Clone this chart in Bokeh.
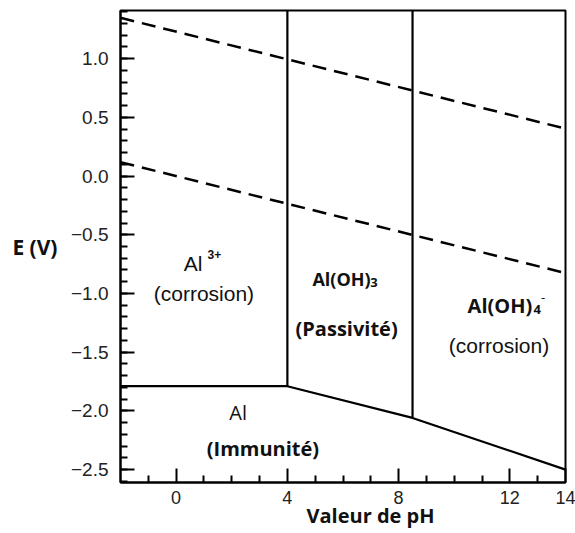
from bokeh.plotting import figure
from bokeh.models import Range1d, FixedTicker, Label, LinearAxis
from bokeh.embed import file_html
from bokeh.resources import INLINE

# ---- data ----
ph_boundary = [-2, 4, 8.5, 14]
e_boundary = [-1.79, -1.79, -2.06, -2.50]
vertical_ph = [4, 8.5]
vertical_e_bottom = [-1.79, -2.06]
e_top = 1.41
water_ph = [-2, 14]
e_O2 = [1.348, 0.404]
e_H2 = [0.118, -0.826]

x_ticks = [0, 4, 8, 12, 14]
x_minor = [-1, 1, 2, 3, 5, 6, 7, 9, 10, 11, 13]
y_ticks = [-2.5, -2.0, -1.5, -1.0, -0.5, 0.0, 0.5, 1.0]
y_tick_labels = ["\u22122.5", "\u22122.0", "\u22121.5", "\u22121.0", "\u22120.5", "0.0", "0.5", "1.0"]
y_minor = [round(-2.6 + 0.1 * i, 1) for i in range(41)]

x_title = "Valeur de pH"
x_title_pos = 6.99
y_title = "E (V)"
y_title_pos = -0.60

# region texts: (text, x, y, font, size, style, align)
texts = [
    ("Al", 0.27, -0.745, "Liberation Sans", "21px", "normal", "left"),
    ("3+", 1.13, -0.669, "Liberation Sans", "12px", "bold", "left"),
    ("(corrosion)", 1.00, -1.001, "Liberation Sans", "21px", "normal", "center"),
    ("Al(OH)", 4.90, -0.873, "Open Sans", "18px", "bold", "left"),
    ("3", 6.98, -0.907, "Open Sans", "13px", "bold", "left"),
    ("(Passivit\u00e9)", 6.13, -1.299, "Open Sans", "20px", "bold", "center"),
    ("Al(OH)", 10.48, -1.103, "Open Sans", "20px", "bold", "left"),
    ("4", 12.85, -1.137, "Open Sans", "13px", "bold", "left"),
    ("-", 13.12, -1.035, "Open Sans", "13px", "normal", "left"),
    ("(corrosion)", 11.61, -1.444, "Liberation Sans", "21px", "normal", "center"),
    ("Al", 2.23, -2.014, "Open Sans", "20px", "normal", "center"),
    ("(Immunit\u00e9)", 3.12, -2.321, "Open Sans", "20px", "bold", "center"),
]

p = figure(width=575, height=533,
           x_range=Range1d(-2, 14), y_range=Range1d(-2.61, e_top),
           output_backend="svg", toolbar_location=None,
           min_border_left=120, min_border_right=10,
           min_border_top=10, min_border_bottom=51)
p.grid.visible = False
p.outline_line_color = "black"
p.outline_line_width = 2
p.outline_line_alpha = 1.0
p.background_fill_color = "white"
p.border_fill_color = "white"

# boundaries
p.line(ph_boundary, e_boundary, line_color="black", line_width=2.2)
p.segment(x0=vertical_ph, y0=vertical_e_bottom, x1=vertical_ph,
          y1=[e_top] * len(vertical_ph), line_color="black", line_width=2.2)
p.line(water_ph, e_O2, line_color="black", line_width=2.5, line_dash="14 8")
p.line(water_ph, e_H2, line_color="black", line_width=2.5, line_dash="14 8")

for ax in (p.xaxis[0], p.yaxis[0]):
    ax.axis_line_width = 2
    ax.axis_line_color = "black"
    ax.major_tick_in = 14
    ax.major_tick_out = 0
    ax.minor_tick_in = 7
    ax.minor_tick_out = 0
    ax.major_tick_line_width = 2
    ax.minor_tick_line_width = 2
    ax.major_tick_line_color = "black"
    ax.minor_tick_line_color = "black"
    ax.major_label_text_font = "Liberation Sans"
    ax.major_label_text_color = "#222222"

xa = p.xaxis[0]
xa.ticker = FixedTicker(ticks=x_ticks, minor_ticks=x_minor)
xa.major_label_text_font_size = "18px"
xa.major_label_standoff = 8

ya = p.yaxis[0]
ya.ticker = FixedTicker(ticks=y_ticks, minor_ticks=y_minor)
ya.major_label_overrides = {t: l for t, l in zip(y_ticks, y_tick_labels)}
ya.major_label_text_font_size = "19px"
ya.major_label_standoff = 12


def title_axis(pos, text, size, standoff):
    return LinearAxis(ticker=FixedTicker(ticks=[pos], minor_ticks=[]),
                      major_label_overrides={pos: text},
                      axis_line_color=None, major_tick_line_color=None,
                      minor_tick_line_color=None,
                      major_tick_in=0, major_tick_out=0,
                      minor_tick_in=0, minor_tick_out=0,
                      major_label_text_font="Open Sans",
                      major_label_text_font_size=size,
                      major_label_text_font_style="bold",
                      major_label_text_color="#111111",
                      major_label_standoff=standoff)


p.add_layout(title_axis(y_title_pos, y_title, "21px", 10), "left")
p.add_layout(title_axis(x_title_pos, x_title, "20px", -5), "below")

for txt, x, y, font, size, style, align in texts:
    p.add_layout(Label(x=x, y=y, text=txt, text_font=font, text_font_size=size,
                       text_font_style=style, text_align=align,
                       text_baseline="alphabetic", text_color="#111111"))

open("out.html", "w").write(file_html(p, INLINE))
